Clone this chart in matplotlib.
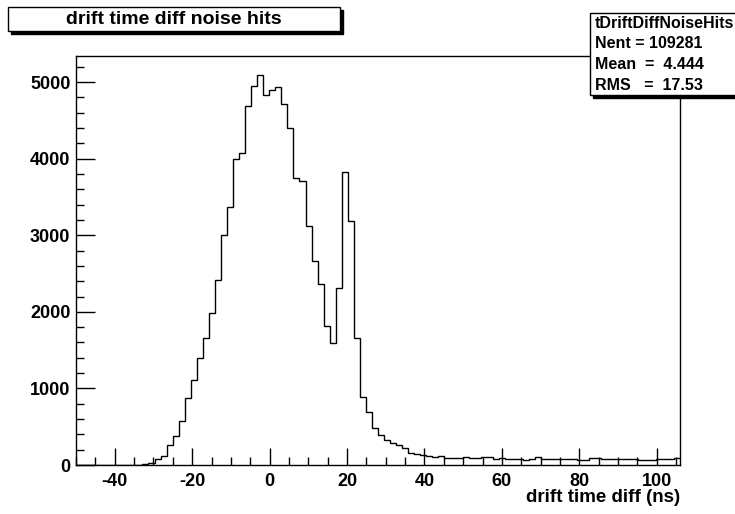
"""
drift time diff noise hits - ROOT style histogram redrawn in matplotlib
"""

import numpy as np
import matplotlib.pyplot as plt
from matplotlib.patches import Rectangle
from matplotlib.ticker import MultipleLocator

# Histogram: 100 bins from -50 to 106 ns
x_lo, x_hi, n_bins = -50, 106, 100
counts = [
    0, 0, 0, 0, 0, 0, 0, 0, 0, 0,
    4, 10, 22, 76, 124, 260, 378, 569, 881, 1111,
    1398, 1662, 1988, 2413, 3003, 3363, 3997, 4071, 4687, 4948,
    5087, 4830, 4891, 4935, 4720, 4405, 3752, 3710, 3120, 2670,
    2360, 1812, 1588, 2313, 3822, 3190, 1655, 885, 690, 488,
    388, 320, 288, 262, 221, 161, 143, 135, 113, 100,
    122, 95, 91, 91, 100, 95, 91, 100, 100, 82,
    87, 78, 82, 74, 69, 82, 100, 74, 78, 78,
    82, 74, 74, 60, 69, 95, 87, 82, 82, 78,
    78, 74, 74, 65, 69, 69, 82, 74, 74, 87,
]

title = 'drift time diff noise hits'
x_label = 'drift time diff (ns)'
stats_lines = ['tDriftDiffNoiseHits', 'Nent = 109281', 'Mean  =  4.444', 'RMS   =  17.53']

plt.rcParams['font.family'] = ['Liberation Sans', 'DejaVu Sans']
plt.rcParams['font.weight'] = 'bold'
plt.rcParams['axes.unicode_minus'] = False  # ROOT uses a plain hyphen

W, H = 735, 514
fig = plt.figure(figsize=(W / 100, H / 100), dpi=100)

# axes frame in pixels: left 76, right 680, top 56, bottom 465
ax = fig.add_axes([76 / W, (H - 465) / H, (680 - 76) / W, (465 - 56) / H])

edges = np.linspace(x_lo, x_hi, n_bins + 1)
ax.stairs(counts, edges, color='black', linewidth=1.0, baseline=None)

ax.set_xlim(x_lo, x_hi)
ax.set_ylim(0, max(counts) * 1.05)

ax.xaxis.set_major_locator(MultipleLocator(20))
ax.xaxis.set_minor_locator(MultipleLocator(5))
ax.yaxis.set_major_locator(MultipleLocator(1000))
ax.yaxis.set_minor_locator(MultipleLocator(200))
ax.tick_params(which='both', direction='in', top=False, right=False, width=1, labelsize=13)
ax.tick_params(axis='x', which='major', length=12, pad=6)
ax.tick_params(axis='x', which='minor', length=6)
ax.tick_params(axis='y', which='major', length=14, pad=4)
ax.tick_params(axis='y', which='minor', length=6)
for lab in ax.get_xticklabels() + ax.get_yticklabels():
    lab.set_fontweight('bold')
for s in ax.spines.values():
    s.set_linewidth(1.0)

ax.set_xlabel(x_label, fontsize=13.5, fontweight='bold', loc='right', labelpad=-1)


def px_box(x0, y0, x1, y1, shadow=3):
    # box in figure pixels (y from top), with a black drop shadow
    fx, fy = x0 / W, 1 - y1 / H
    fw, fh = (x1 - x0) / W, (y1 - y0) / H
    fig.patches.append(Rectangle((fx + shadow / W, fy - shadow / H), fw, fh,
                                 transform=fig.transFigure, facecolor='black',
                                 edgecolor='black', zorder=5))
    fig.patches.append(Rectangle((fx, fy), fw, fh, transform=fig.transFigure,
                                 facecolor='white', edgecolor='black',
                                 linewidth=1.0, zorder=6))


# title box
px_box(8, 7, 340, 31)
fig.text(174 / W, 1 - 19 / H, title, ha='center', va='center',
         fontsize=14, fontweight='bold', zorder=7)

# stats box
px_box(590, 13, 740, 95)
for i, line in enumerate(stats_lines):
    fig.text(595 / W, 1 - (23 + i * 20.7) / H, line, ha='left', va='center',
             fontsize=11.5, fontweight='bold', zorder=7)

fig.savefig('out.png', dpi=100)
